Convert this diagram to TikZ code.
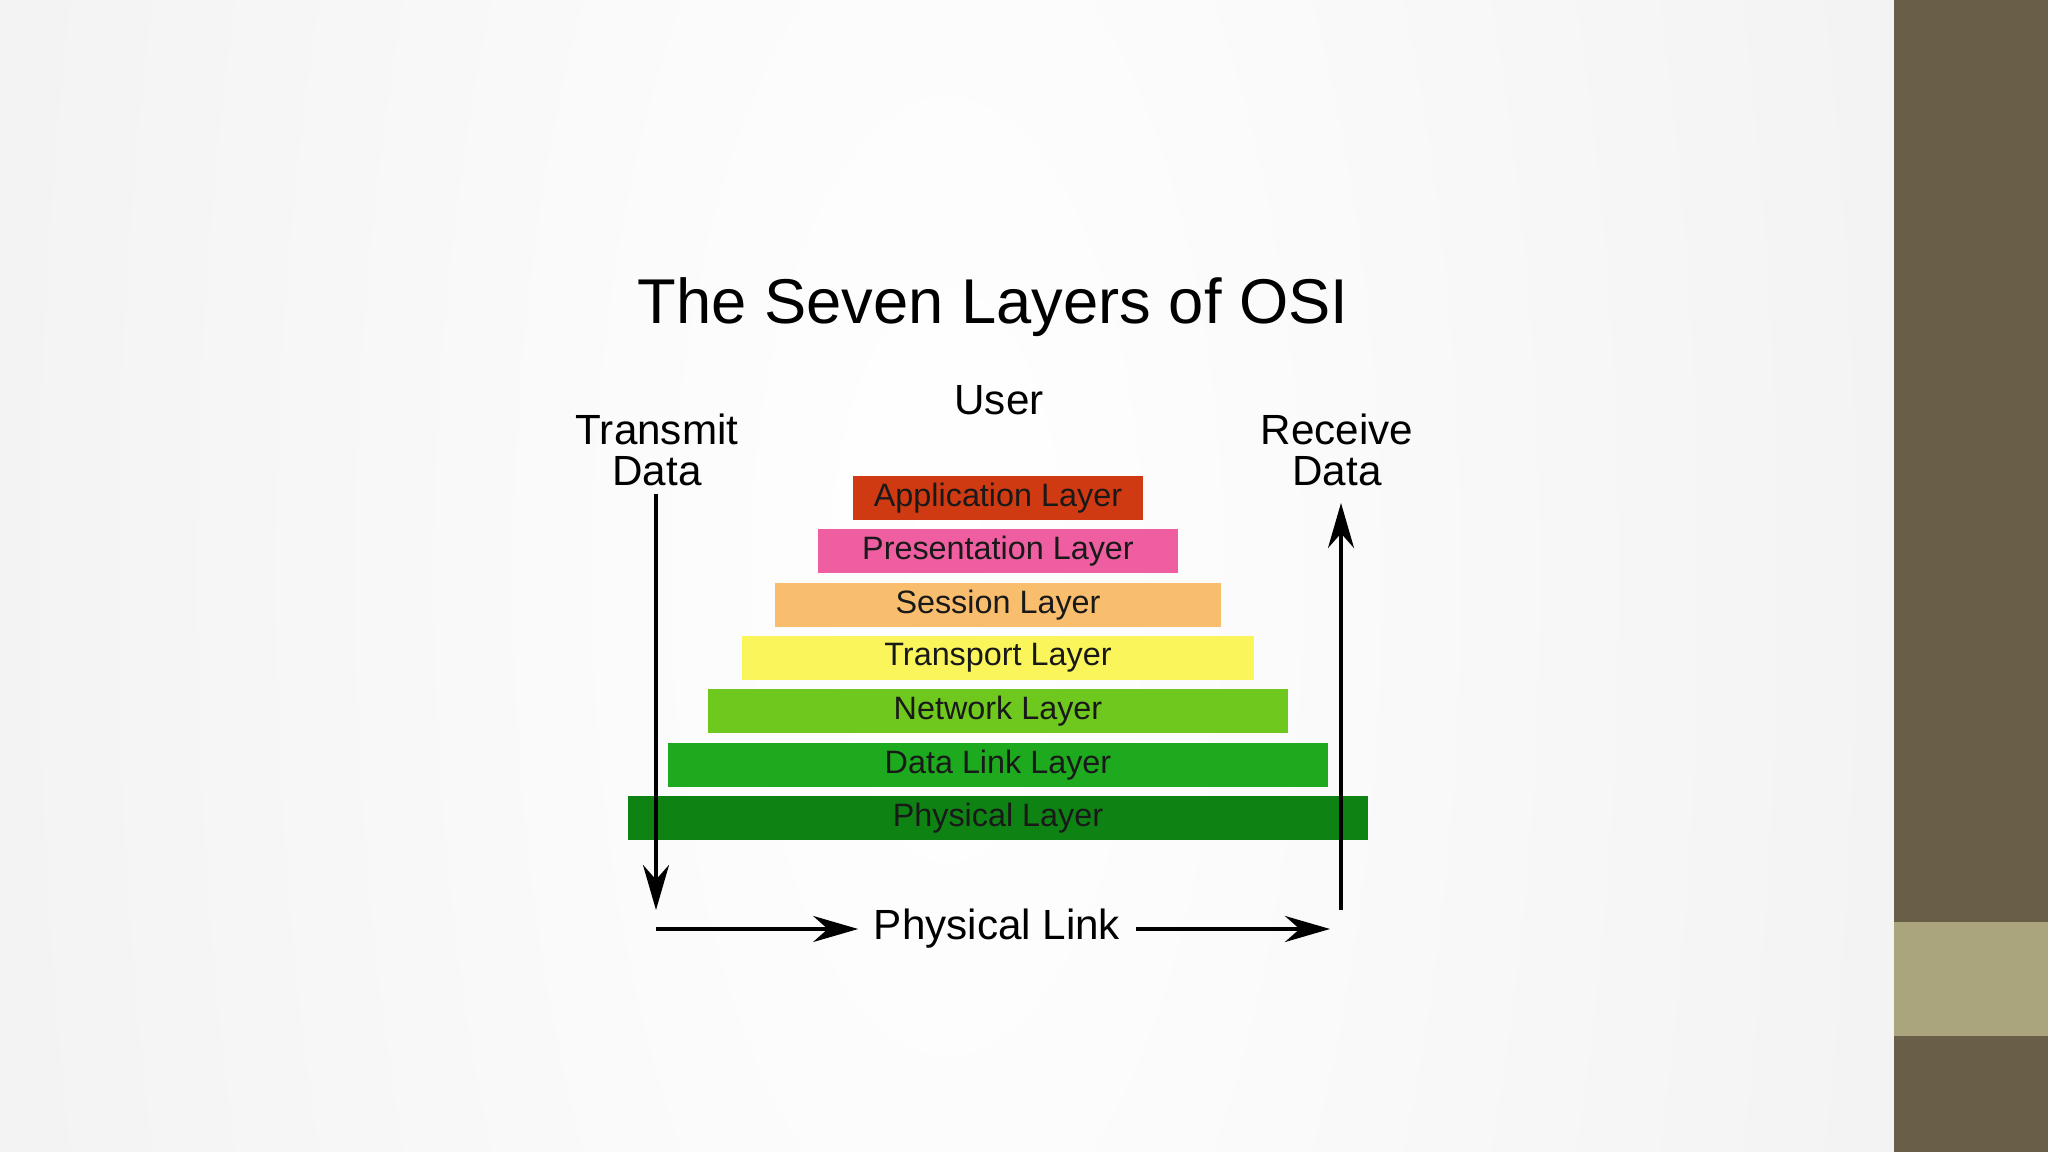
\documentclass[tikz,border=0pt]{standalone}
\usepackage{fontspec}
\setmainfont{Liberation Sans}
\usetikzlibrary{arrows.meta,positioning}
\definecolor{appred}{RGB}{208,58,18}
\definecolor{prespink}{RGB}{238,94,160}
\definecolor{sessorange}{RGB}{248,190,110}
\definecolor{transyellow}{RGB}{250,245,90}
\definecolor{netgreen}{RGB}{110,200,30}
\definecolor{linkgreen}{RGB}{30,170,30}
\definecolor{physgreen}{RGB}{15,130,20}
\definecolor{barbrown}{RGB}{105,95,72}
\definecolor{barsand}{RGB}{170,165,125}
\definecolor{slidegray}{RGB}{215,215,215}
\tikzset{
  layerbox/.style={ minimum height=0.44cm, inner sep=0pt, text=black!90, font=\fontsize{9.2}{11}\selectfont }
}
\tikzset{
  sidetext/.style={ align=center, font=\fontsize{12}{11.5}\selectfont }
}
\tikzset{
  bigarrow/.style={ line width=1pt, -{Stealth[length=4.5mm, width=2.6mm]} }
}

\begin{document}
\begin{tikzpicture}[x=0.01cm, y=-0.01cm]
      \useasboundingbox (0,0) rectangle (2048,1152);
      \begin{scope}
        \clip (0,0) rectangle (1894,1152);
        \shade[inner color=white, outer color=slidegray] (-2213,-7104) rectangle (4107,8256);
      \end{scope}
      \fill[barbrown] (1894,0) rectangle (2048,1152);
      \fill[barsand] (1894,922) rectangle (2048,1036);

      \node[font=\fontsize{18}{20}\selectfont] (title) at (993,307) {The Seven Layers of OSI};
      \node[sidetext] (user) at (999,400) {User};
      \node[sidetext] (tx) at (657,450) {Transmit\\Data};
      \node[sidetext] (rx) at (1337,450) {Receive\\Data};

      \node[layerbox, fill=appred, minimum width=2.90cm] (app) at (998,498) {Application Layer};
      \node[layerbox, fill=prespink, minimum width=3.59cm] (pres) at (998,551) {Presentation Layer};
      \node[layerbox, fill=sessorange, minimum width=4.45cm] (sess) at (998,605) {Session Layer};
      \node[layerbox, fill=transyellow, minimum width=5.11cm] (trans) at (998,658) {Transport Layer};
      \node[layerbox, fill=netgreen, minimum width=5.79cm] (net) at (998,711) {Network Layer};
      \node[layerbox, fill=linkgreen, minimum width=6.60cm] (link) at (998,765) {Data Link Layer};
      \node[layerbox, fill=physgreen, minimum width=7.39cm] (phys) at (998,818) {Physical Layer};

      \node[sidetext, inner xsep=0.15cm] (plink) at (997,929) {Physical Link};

      \coordinate (ttop) at (656,494);
      \coordinate (tbot) at (656,910);
      \coordinate (rbot) at (1341,910);
      \coordinate (rtop) at (1341,503);
      \coordinate (lstart) at (656,929);
      \coordinate (rend) at (1330,929);

      \begin{scope}[bigarrow]
        \draw (ttop) -- (tbot);
        \draw (rbot) -- (rtop);
        \draw (lstart) -- (plink.west);
        \draw (plink.east) -- (rend);
      \end{scope}
    \end{tikzpicture}
\end{document}
